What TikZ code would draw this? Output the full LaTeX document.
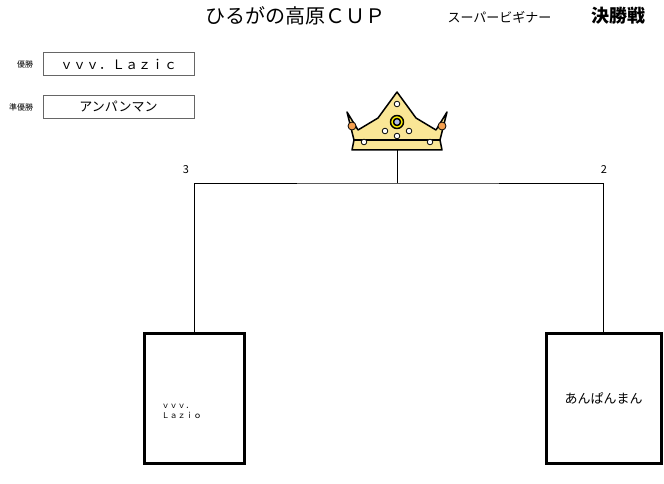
\documentclass[tikz,border=0pt]{standalone}
\usepackage{fontspec}
\setmainfont{Noto Sans CJK JP}
\usetikzlibrary{positioning,calc}
\definecolor{crowngold}{RGB}{250,230,150}
\definecolor{jewelblue}{RGB}{60,90,200}
\definecolor{jewelorange}{RGB}{245,160,80}

\begin{document}
\begin{tikzpicture}[x=1pt,y=-1pt,
  namebox/.style={draw=black!60,thick,minimum width=151pt,minimum height=23pt,inner sep=0pt,font=\fontsize{13}{13}\selectfont},
  teambox/.style={draw,line width=3pt,minimum height=130pt,inner sep=0pt},
  lbl/.style={font=\fontsize{8}{8}\selectfont},
  jewel/.style={draw,thick,fill=white}
]
\useasboundingbox (0,0) rectangle (664,484);

% the title
\node (title) at (295,16) {\fontsize{20}{20}\selectfont ひるがの高原ＣＵＰ};
\node[anchor=base west] (sub) at (444,23) {\fontsize{13}{13}\selectfont スーパービギナー};
\node[anchor=base west] (fin) at (588,23) {\fontsize{18}{18}\selectfont\bfseries 決勝戦};

% winner and runner-up
\node[namebox] (win) at (118.5,64) {ｖｖｖ．Ｌａｚｉｃ};
\node[lbl,left=6pt of win] (winlbl) {優勝};
\node[namebox] (second) at (118.5,107) {アンパンマン};
\node[lbl,left=6pt of second] (secondlbl) {準優勝};

% the crown
\begin{scope}[line width=1.5pt,line join=round]
  \draw[fill=crowngold] (347,112) -- (358,130) -- (378,118) -- (397,92) -- (416,118)
    -- (436,130) -- (447,112) -- (440,140) -- (442,150) -- (352,150) -- (354,140) -- cycle;
  \draw (354,140) -- (440,140);
  \draw[fill=yellow] (397,122) circle (6.5);
  \draw[fill=jewelblue!40] (397,122) circle (3.5);
  \foreach \p in {(397,104),(385,131),(409,131),(397,136),(364,142),(430,142)}
    \draw[jewel] \p circle (2.8);
  \draw[jewel,fill=jewelorange] (352,126) circle (4);
  \draw[jewel,fill=jewelorange] (442,126) circle (4);
\end{scope}
\node[inner sep=0pt,minimum size=2pt] (crown) at (397,150) {};

% the teams
\node[teambox,minimum width=100pt] (lbox) at (194,398) {};
\node[teambox,minimum width=115pt] (rbox) at (603.5,398) {};
\node[anchor=west,align=left,font=\fontsize{8}{10}\selectfont] (ltext) at (158,411) {ｖｖｖ．\\Ｌａｚｉｏ};
\node[font=\fontsize{13}{13}\selectfont] (rtext) at (rbox) {あんぱんまん};

% the bracket
\coordinate (join) at (397,183);
\draw[thick] (lbox.north) |- (join) -| (rbox.north);
\draw[thick] (join) -- (crown.center);
\node[font=\fontsize{11}{11}\selectfont] (lscore) at (186,170) {3};
\node[font=\fontsize{11}{11}\selectfont] (rscore) at (604,170) {2};
\end{tikzpicture}
\end{document}
